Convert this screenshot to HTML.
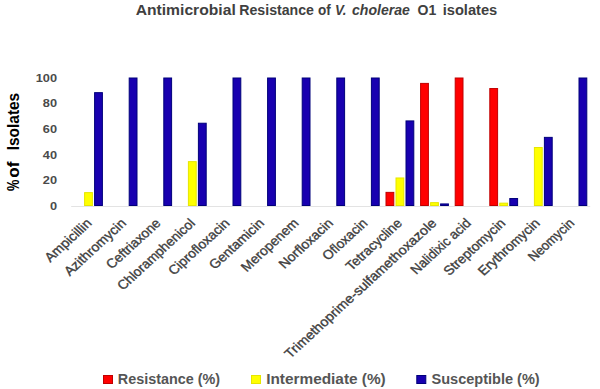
<!DOCTYPE html>
<html><head><meta charset="utf-8"><style>
html,body{margin:0;padding:0;background:#fff;width:600px;height:389px;overflow:hidden}
svg{display:block}
text{font-family:"Liberation Sans",sans-serif}
</style></head><body>
<svg width="600" height="389" viewBox="0 0 600 389">
<text x="135.70" y="15" font-size="14.3" font-weight="bold" fill="#404040" textLength="100.06" lengthAdjust="spacingAndGlyphs">Antimicrobial</text>
<text x="239.30" y="15" font-size="14.3" font-weight="bold" fill="#404040" textLength="74.65" lengthAdjust="spacingAndGlyphs">Resistance</text>
<text x="318.00" y="15" font-size="14.3" font-weight="bold" fill="#404040" textLength="12.77" lengthAdjust="spacingAndGlyphs">of</text>
<text x="335.07" y="15" font-size="14.3" font-weight="bold" font-style="italic" fill="#404040" textLength="11.33" lengthAdjust="spacingAndGlyphs">V.</text>
<text x="352.00" y="15" font-size="14.3" font-weight="bold" font-style="italic" fill="#404040" textLength="57.95" lengthAdjust="spacingAndGlyphs">cholerae</text>
<text x="417.50" y="15" font-size="14.3" font-weight="bold" fill="#404040" textLength="18.75" lengthAdjust="spacingAndGlyphs">O1</text>
<text x="442.67" y="15" font-size="14.3" font-weight="bold" fill="#404040" textLength="54.58" lengthAdjust="spacingAndGlyphs">isolates</text>
<text transform="translate(18.8,190.9) rotate(-90)" font-size="15.8" font-weight="bold" fill="#000" textLength="11.3" lengthAdjust="spacingAndGlyphs">%</text>
<text transform="translate(18.8,177.8) rotate(-90)" font-size="15.8" font-weight="bold" fill="#000" textLength="16.2" lengthAdjust="spacingAndGlyphs">of</text>
<text transform="translate(18.8,150.3) rotate(-90)" font-size="15.8" font-weight="bold" fill="#000" textLength="57.5" lengthAdjust="spacingAndGlyphs">Isolates</text>
<line x1="71.2" y1="206.5" x2="590.2" y2="206.5" stroke="#e3e3e3" stroke-width="1"/>
<text transform="translate(57,210.0) scale(1.16,1)" font-size="11" font-weight="bold" fill="#4a4a4a" text-anchor="end">0</text>
<text transform="translate(57,184.3) scale(1.16,1)" font-size="11" font-weight="bold" fill="#4a4a4a" text-anchor="end">20</text>
<text transform="translate(57,158.6) scale(1.16,1)" font-size="11" font-weight="bold" fill="#4a4a4a" text-anchor="end">40</text>
<text transform="translate(57,132.9) scale(1.16,1)" font-size="11" font-weight="bold" fill="#4a4a4a" text-anchor="end">60</text>
<text transform="translate(57,107.2) scale(1.16,1)" font-size="11" font-weight="bold" fill="#4a4a4a" text-anchor="end">80</text>
<text transform="translate(57,81.5) scale(1.16,1)" font-size="11" font-weight="bold" fill="#4a4a4a" text-anchor="end">100</text>
<rect x="84.60" y="192.62" width="7.80" height="12.88" fill="#ffff00" stroke="#e6e600" stroke-width="1.0"/>
<rect x="94.60" y="92.65" width="7.80" height="112.85" fill="#1800b0" stroke="#00007a" stroke-width="1.0"/>
<text transform="translate(92.5,224.0) scale(1.09,1) rotate(-45)" font-size="13.0" fill="#404040" stroke="#404040" stroke-width="0.35" text-anchor="end" textLength="54.9" lengthAdjust="spacingAndGlyphs">Ampicillin</text>
<rect x="129.20" y="78.00" width="7.80" height="127.50" fill="#1800b0" stroke="#00007a" stroke-width="1.0"/>
<text transform="translate(127.0,224.0) scale(1.09,1) rotate(-45)" font-size="13.0" fill="#404040" stroke="#404040" stroke-width="0.35" text-anchor="end" textLength="74.41" lengthAdjust="spacingAndGlyphs">Azithromycin</text>
<rect x="163.80" y="78.00" width="7.80" height="127.50" fill="#1800b0" stroke="#00007a" stroke-width="1.0"/>
<text transform="translate(161.5,224.0) scale(1.09,1) rotate(-45)" font-size="13.0" fill="#404040" stroke="#404040" stroke-width="0.35" text-anchor="end" textLength="64.53" lengthAdjust="spacingAndGlyphs">Ceftriaxone</text>
<rect x="188.40" y="161.65" width="7.80" height="43.85" fill="#ffff00" stroke="#e6e600" stroke-width="1.0"/>
<rect x="198.40" y="123.23" width="7.80" height="82.27" fill="#1800b0" stroke="#00007a" stroke-width="1.0"/>
<text transform="translate(195.9,224.0) scale(1.09,1) rotate(-45)" font-size="13.0" fill="#404040" stroke="#404040" stroke-width="0.35" text-anchor="end" textLength="94.56" lengthAdjust="spacingAndGlyphs">Chloramphenicol</text>
<rect x="233.00" y="78.00" width="7.80" height="127.50" fill="#1800b0" stroke="#00007a" stroke-width="1.0"/>
<text transform="translate(230.4,224.0) scale(1.09,1) rotate(-45)" font-size="13.0" fill="#404040" stroke="#404040" stroke-width="0.35" text-anchor="end" textLength="73.2" lengthAdjust="spacingAndGlyphs">Ciprofloxacin</text>
<rect x="267.60" y="78.00" width="7.80" height="127.50" fill="#1800b0" stroke="#00007a" stroke-width="1.0"/>
<text transform="translate(264.9,224.0) scale(1.09,1) rotate(-45)" font-size="13.0" fill="#404040" stroke="#404040" stroke-width="0.35" text-anchor="end" textLength="65.1" lengthAdjust="spacingAndGlyphs">Gentamicin</text>
<rect x="302.20" y="78.00" width="7.80" height="127.50" fill="#1800b0" stroke="#00007a" stroke-width="1.0"/>
<text transform="translate(299.4,224.0) scale(1.09,1) rotate(-45)" font-size="13.0" fill="#404040" stroke="#404040" stroke-width="0.35" text-anchor="end" textLength="68.46" lengthAdjust="spacingAndGlyphs">Meropenem</text>
<rect x="336.80" y="78.00" width="7.80" height="127.50" fill="#1800b0" stroke="#00007a" stroke-width="1.0"/>
<text transform="translate(333.9,224.0) scale(1.09,1) rotate(-45)" font-size="13.0" fill="#404040" stroke="#404040" stroke-width="0.35" text-anchor="end" textLength="64.12" lengthAdjust="spacingAndGlyphs">Norfloxacin</text>
<rect x="371.40" y="78.00" width="7.80" height="127.50" fill="#1800b0" stroke="#00007a" stroke-width="1.0"/>
<text transform="translate(368.3,224.0) scale(1.09,1) rotate(-45)" font-size="13.0" fill="#404040" stroke="#404040" stroke-width="0.35" text-anchor="end" textLength="52.24" lengthAdjust="spacingAndGlyphs">Ofloxacin</text>
<rect x="386.00" y="192.37" width="7.80" height="13.13" fill="#ff0000" stroke="#c00000" stroke-width="1.0"/>
<rect x="396.00" y="177.97" width="7.80" height="27.53" fill="#ffff00" stroke="#e6e600" stroke-width="1.0"/>
<rect x="406.00" y="120.92" width="7.80" height="84.58" fill="#1800b0" stroke="#00007a" stroke-width="1.0"/>
<text transform="translate(402.8,224.0) scale(1.09,1) rotate(-45)" font-size="13.0" fill="#404040" stroke="#404040" stroke-width="0.35" text-anchor="end" textLength="66.69" lengthAdjust="spacingAndGlyphs">Tetracycline</text>
<rect x="420.60" y="83.40" width="7.80" height="122.10" fill="#ff0000" stroke="#c00000" stroke-width="1.0"/>
<rect x="430.60" y="202.65" width="7.80" height="2.85" fill="#ffff00" stroke="#e6e600" stroke-width="1.0"/>
<rect x="440.60" y="203.93" width="7.80" height="1.57" fill="#1800b0" stroke="#00007a" stroke-width="1.0"/>
<text transform="translate(437.3,224.0) scale(1.09,1) rotate(-45)" font-size="13.0" fill="#404040" stroke="#404040" stroke-width="0.35" text-anchor="end" textLength="190.76" lengthAdjust="spacingAndGlyphs">Trimethoprime-sulfamethoxazole</text>
<rect x="455.20" y="78.00" width="7.80" height="127.50" fill="#ff0000" stroke="#c00000" stroke-width="1.0"/>
<text transform="translate(471.8,224.0) scale(1.09,1) rotate(-45)" font-size="13.0" fill="#404040" stroke="#404040" stroke-width="0.35" text-anchor="end" textLength="71.96" lengthAdjust="spacingAndGlyphs">Nalidixic acid</text>
<rect x="489.80" y="88.54" width="7.80" height="116.96" fill="#ff0000" stroke="#c00000" stroke-width="1.0"/>
<rect x="499.80" y="203.16" width="7.80" height="2.34" fill="#ffff00" stroke="#e6e600" stroke-width="1.0"/>
<rect x="509.80" y="198.53" width="7.80" height="6.97" fill="#1800b0" stroke="#00007a" stroke-width="1.0"/>
<text transform="translate(506.3,224.0) scale(1.09,1) rotate(-45)" font-size="13.0" fill="#404040" stroke="#404040" stroke-width="0.35" text-anchor="end" textLength="73.91" lengthAdjust="spacingAndGlyphs">Streptomycin</text>
<rect x="534.40" y="147.52" width="7.80" height="57.98" fill="#ffff00" stroke="#e6e600" stroke-width="1.0"/>
<rect x="544.40" y="137.37" width="7.80" height="68.13" fill="#1800b0" stroke="#00007a" stroke-width="1.0"/>
<text transform="translate(540.7,224.0) scale(1.09,1) rotate(-45)" font-size="13.0" fill="#404040" stroke="#404040" stroke-width="0.35" text-anchor="end" textLength="73.9" lengthAdjust="spacingAndGlyphs">Erythromycin</text>
<rect x="579.00" y="78.00" width="7.80" height="127.50" fill="#1800b0" stroke="#00007a" stroke-width="1.0"/>
<text transform="translate(575.2,224.0) scale(1.09,1) rotate(-45)" font-size="13.0" fill="#404040" stroke="#404040" stroke-width="0.35" text-anchor="end" textLength="53.9" lengthAdjust="spacingAndGlyphs">Neomycin</text>
<rect x="103.5" y="375.5" width="9" height="8" fill="#ff0000" stroke="#c00000" stroke-width="1"/>
<text x="117.80" y="384.4" font-size="14" font-weight="bold" fill="#555555" textLength="102.18" lengthAdjust="spacingAndGlyphs">Resistance (%)</text>
<rect x="251.5" y="375.5" width="9" height="8" fill="#ffff00" stroke="#e6e600" stroke-width="1"/>
<text x="266.20" y="384.4" font-size="14" font-weight="bold" fill="#555555" textLength="119.53" lengthAdjust="spacingAndGlyphs">Intermediate (%)</text>
<rect x="416.8" y="375.5" width="9" height="8" fill="#1800b0" stroke="#00007a" stroke-width="1"/>
<text x="431.50" y="384.4" font-size="14" font-weight="bold" fill="#555555" textLength="108.19" lengthAdjust="spacingAndGlyphs">Susceptible (%)</text>
</svg>
</body></html>
